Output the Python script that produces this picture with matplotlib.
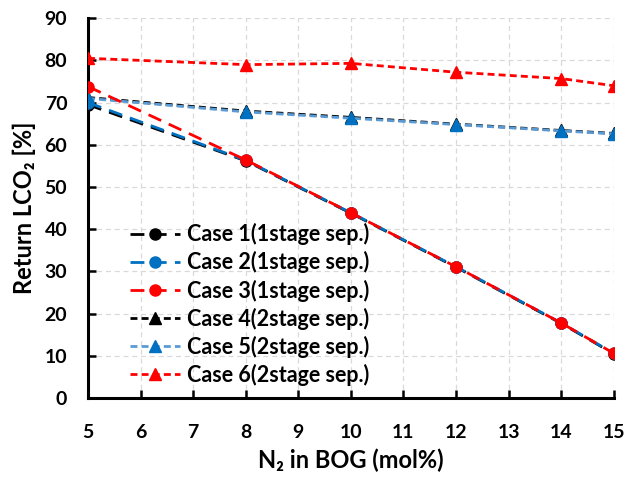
import matplotlib
matplotlib.use("Agg")
import matplotlib.pyplot as plt

# 데이터
n2 = [5, 8, 10, 12, 14, 15]
case1 = [69.5, 56.2, 43.8, 31.0, 17.7, 10.5]
case2 = [70.0, 56.3, 43.9, 31.1, 17.8, 10.6]
case3 = [73.8, 56.4, 43.9, 31.1, 17.8, 10.6]
case4 = [71.2, 68.0, 66.5, 64.9, 63.4, 62.7]
case5 = [71.0, 67.8, 66.3, 64.8, 63.3, 62.6]
case6 = [80.5, 79.0, 79.3, 77.2, 75.7, 74.0]
labels = ['Case 1(1stage sep.)', 'Case 2(1stage sep.)', 'Case 3(1stage sep.)',
          'Case 4(2stage sep.)', 'Case 5(2stage sep.)', 'Case 6(2stage sep.)']
xticks = list(range(5, 16))
yticks = list(range(0, 91, 10))

plt.rcParams['font.family'] = ['Lato', 'DejaVu Sans']
plt.rcParams['font.weight'] = 'bold'

fig = plt.figure(figsize=(6.34, 4.79), dpi=100)
ax = fig.add_axes([0.139, 0.169, 0.829, 0.793])

long_dash = (0, (5, 3))
short_dash = (0, (2.5, 1.5))
blue = '#0070C0'
light_blue = '#5B9BD5'
red = '#FF0000'

# 2단 분리 케이스
ax.plot(n2, case4, color='black', ls=short_dash, lw=2, marker='^', ms=8, mfc='black', mec='black', label=labels[3], zorder=3)
ax.plot(n2, case5, color=light_blue, ls=short_dash, lw=2, marker='^', ms=8, mfc=blue, mec=blue, label=labels[4], zorder=3)
ax.plot(n2, case6, color=red, ls=short_dash, lw=2, marker='^', ms=8, mfc=red, mec=red, label=labels[5], zorder=3)
# 1단 분리 케이스
ax.plot(n2, case1, color='black', ls=long_dash, lw=2, marker='o', ms=8, label=labels[0], zorder=3)
ax.plot(n2, case2, color=blue, ls=long_dash, lw=2, marker='o', ms=8, label=labels[1], zorder=3)
ax.plot(n2, case3, color=red, ls=long_dash, lw=2, marker='o', ms=8, label=labels[2], zorder=3)

ax.set_xlim(5, 15)
ax.set_ylim(0, 90)
ax.set_xticks(xticks)
ax.set_yticks(yticks)
ax.grid(True, color='#D9D9D9', ls=(0, (4, 3)), lw=0.9)
ax.set_axisbelow(True)

for s in ['top', 'right']:
    ax.spines[s].set_visible(False)
for s in ['left', 'bottom']:
    ax.spines[s].set_linewidth(2.2)

ax.tick_params(direction='in', length=6, width=1.8, labelsize=14)
ax.tick_params(axis='x', pad=19)
ax.tick_params(axis='y', pad=15)
for t in ax.get_xticklabels() + ax.get_yticklabels():
    t.set_fontweight('bold')

ax.set_xlabel('N\u2082 in BOG (mol%)', fontsize=17, fontweight='bold', labelpad=5)
ax.set_ylabel('Return LCO\u2082 [%]', fontsize=17, fontweight='bold', labelpad=6)

handles, labs = ax.get_legend_handles_labels()
order = [3, 4, 5, 0, 1, 2]
leg = ax.legend([handles[i] for i in order], [labs[i] for i in order],
                loc='upper left', bbox_to_anchor=(0.08, 0.46), frameon=False,
                fontsize=15.5, handlelength=2.3, labelspacing=0.28, handletextpad=0.35,
                borderaxespad=0, borderpad=0)
for t in leg.get_texts():
    t.set_fontweight('bold')

fig.savefig('out.png', dpi=100)
